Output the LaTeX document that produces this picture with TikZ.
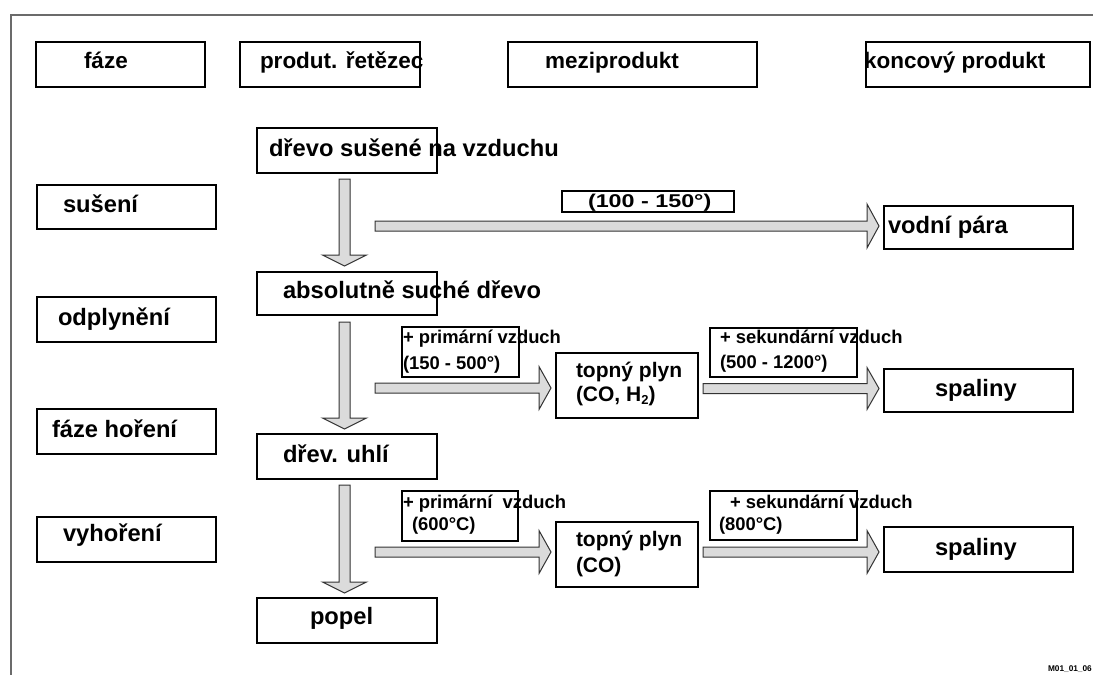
\documentclass[tikz,border=0pt]{standalone}
\usepackage{fontspec}
\setmainfont{Liberation Sans}
\usetikzlibrary{calc}

% font sizes (1 unit = 1pt)
\newcommand\fHead{\fontsize{22.5}{26}\selectfont\bfseries}
\newcommand\fBody{\fontsize{23.7}{28}\selectfont\bfseries}
\newcommand\fGas{\fontsize{21}{24}\selectfont\bfseries}
\newcommand\fSmall{\fontsize{18.4}{22}\selectfont\bfseries}
\newcommand\fTemp{\fontsize{18.5}{22}\selectfont\bfseries}
\newcommand\fTiny{\fontsize{8.3}{9}\selectfont\bfseries}
\newcommand\subtwo{\raisebox{-0.35ex}{\fontsize{13}{13}\selectfont 2}}

\tikzset{
  frameline/.style={draw=black!58, line width=1.6pt},
  boxst/.style={rectangle, draw=black, line width=2.2pt, inner sep=0pt, outer sep=0pt},
  headbox/.style={boxst, line width=2.6pt},
  labbox/.style={boxst, line width=1.8pt},
  txt/.style={anchor=base west, inner sep=0pt, outer sep=0pt, font=\fBody},
  headtxt/.style={txt, font=\fHead},
  gastxt/.style={txt, font=\fGas},
  smalltxt/.style={txt, font=\fSmall},
  blockarrow/.style={draw=black!80, line width=1pt, fill=black!14, line join=miter},
}

% rectangle node given by its corners: style, name, x1, y1, x2, y2
\newcommand\mkbox[6]{%
  \node[#1, minimum width={#5-#3}, minimum height={#6-#4}] (#2) at ({(#3+#5)/2},{(#4+#6)/2}) {};}

% downward block arrow from #1 to the tip #2
\newcommand\vblock[2]{%
  \draw[blockarrow] ($(#1)+(-5.5,0)$) -- ($(#2)+(-5.5,-11)$) -- ($(#2)+(-22,-11)$) -- (#2)
    -- ($(#2)+(22,-11)$) -- ($(#2)+(5.5,-11)$) -- ($(#1)+(5.5,0)$) -- cycle;}

% rightward block arrow from #1 to the tip #2, head half-height #3
\newcommand\hblock[3]{%
  \draw[blockarrow] ($(#1)+(0,-5)$) -- ($(#2)+(-12,-5)$) -- ($(#2)+(-12,-#3)$) -- (#2)
    -- ($(#2)+(-12,#3)$) -- ($(#2)+(-12,5)$) -- ($(#1)+(0,5)$) -- cycle;}

\begin{document}
\begin{tikzpicture}[x=1pt, y=-1pt]
\useasboundingbox (0,0) rectangle (1093,675);

% page frame
\coordinate (frTL) at (11,15);
\coordinate (frTR) at (1093,15);
\coordinate (frBL) at (11,675);
\draw[frameline] (frTR) -- (frTL) -- (frBL);

% header row
\mkbox{headbox}{hFaze}{36}{42}{205}{87}
\mkbox{headbox}{hRet}{240}{42}{420}{87}
\mkbox{headbox}{hMezi}{508}{42}{757}{87}
\mkbox{headbox}{hKonc}{866}{42}{1090}{87}
\node[headtxt] (hFazeT) at (84,68) {fáze};
\node[headtxt] (hRetT) at (260,68) {produt. řetězec};
\node[headtxt] (hMeziT) at (545,68) {meziprodukt};
\node[headtxt] (hKoncT) at (864,68) {koncový produkt};

% phases
\mkbox{boxst}{pSus}{37}{185}{216}{229}
\mkbox{boxst}{pOdp}{37}{297}{216}{342}
\mkbox{boxst}{pHor}{37}{409}{216}{454}
\mkbox{boxst}{pVyh}{37}{517}{216}{562}
\node[txt] (pSusT) at (63,212) {sušení};
\node[txt] (pOdpT) at (58,325) {odplynění};
\node[txt] (pHorT) at (52,437) {fáze hoření};
\node[txt] (pVyhT) at (63,541) {vyhoření};

% product chain
\mkbox{boxst}{wood}{257}{128}{437}{173}
\mkbox{boxst}{dry}{257}{272}{437}{315}
\mkbox{boxst}{char}{257}{434}{437}{479}
\mkbox{boxst}{ash}{257}{598}{437}{643}
\node[txt] (woodT) at (269,156) {dřevo sušené na vzduchu};
\node[txt] (dryT) at (283,298) {absolutně suché dřevo};
\node[txt] (charT) at (283,462) {dřev. uhlí};
\node[txt] (ashT) at (310,624) {popel};

% intermediate products
\mkbox{boxst}{gas1}{556}{353}{698}{418}
\mkbox{boxst}{gas2}{556}{522}{698}{587}
\node[gastxt] (gas1a) at (576,377) {topný plyn};
\node[gastxt] (gas1b) at (576,401) {(CO, H\subtwo)};
\node[gastxt] (gas2a) at (576,546) {topný plyn};
\node[gastxt] (gas2b) at (576,572) {(CO)};

% end products
\mkbox{boxst}{steam}{884}{206}{1073}{249}
\mkbox{boxst}{flue1}{884}{369}{1073}{412}
\mkbox{boxst}{flue2}{884}{527}{1073}{572}
\node[txt] (steamT) at (888,233) {vodní pára};
\node[txt] (flue1T) at (935,396) {spaliny};
\node[txt] (flue2T) at (935,555) {spaliny};

% conditions
\mkbox{labbox}{c1}{562}{191}{734}{212}
\mkbox{labbox}{c2}{402}{327}{519}{377}
\mkbox{labbox}{c3}{710}{328}{857}{377}
\mkbox{labbox}{c4}{402}{491}{518}{541}
\mkbox{labbox}{c5}{710}{491}{857}{540}
\node[txt, font=\fTemp] (c1T) at (588,207) {\scalebox{1.26}[1]{(100 - 150°)}};
\node[smalltxt] (c2a) at (403,343) {+ primární vzduch};
\node[smalltxt] (c2b) at (403,369) {(150 - 500°)};
\node[smalltxt] (c3a) at (720,343) {+ sekundární vzduch};
\node[smalltxt] (c3b) at (720,368) {(500 - 1200°)};
\node[smalltxt] (c4a) at (403,508) {+ primární\ \ vzduch};
\node[smalltxt] (c4b) at (412,530) {(600°C)};
\node[smalltxt] (c5a) at (730,508) {+ sekundární vzduch};
\node[smalltxt] (c5b) at (719,530) {(800°C)};

% arrow end points
\coordinate (d1s) at (344.5,179);  \coordinate (d1t) at (344.5,266);
\coordinate (d2s) at (344.5,322);  \coordinate (d2t) at (344.5,429);
\coordinate (d3s) at (344.5,485);  \coordinate (d3t) at (344.5,593);
\coordinate (h1s) at (375,226);    \coordinate (h1t) at (879,226);
\coordinate (h2s) at (375,388);    \coordinate (h2t) at (551,388);
\coordinate (h3s) at (703,388.5);  \coordinate (h3t) at (879,388.5);
\coordinate (h4s) at (375,552);    \coordinate (h4t) at (551,552);
\coordinate (h5s) at (703,552);    \coordinate (h5t) at (879,552);

\vblock{d1s}{d1t}
\vblock{d2s}{d2t}
\vblock{d3s}{d3t}
\hblock{h1s}{h1t}{22}
\hblock{h2s}{h2t}{21.5}
\hblock{h3s}{h3t}{21}
\hblock{h4s}{h4t}{21.5}
\hblock{h5s}{h5t}{21.5}

% drawing code
\node[txt, font=\fTiny] (code) at (1048,671.5) {M01\_01\_06};
\end{tikzpicture}
\end{document}
